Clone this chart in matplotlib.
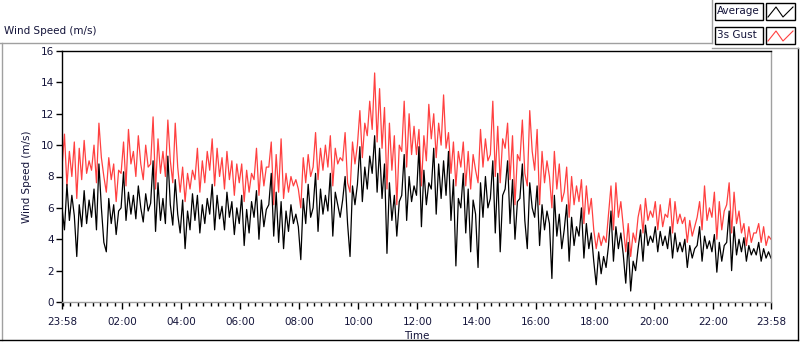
import numpy as np
import matplotlib
matplotlib.use("Agg")
import matplotlib.pyplot as plt
from matplotlib.lines import Line2D
from matplotlib.patches import Rectangle

# ==========================================
# DATOS (una muestra cada 5 min desde las 23:58)
# ==========================================
intervalo_min = 5

promedio = [
    6.0, 4.6, 7.5, 5.2, 6.8, 5.5,   2.9, 6.2, 4.8, 7.1, 5.0, 6.5,
    5.4, 7.2, 4.6, 8.8, 6.0, 3.8,   3.2, 6.6, 5.0, 6.2, 4.3, 5.8,
    6.0, 8.3, 5.2, 7.0, 5.6, 6.8,   5.3, 7.4, 6.0, 5.1, 6.9, 5.8,
    6.3, 9.0, 4.5, 7.6, 5.2, 6.6,   5.0, 9.3, 6.2, 4.9, 7.8, 5.6,
    4.4, 6.5, 3.4, 5.8, 4.6, 6.9,   5.2, 6.8, 4.4, 6.2, 5.0, 6.6,
    5.6, 7.5, 4.6, 6.8, 5.3, 6.1,   4.6, 7.0, 5.4, 6.4, 4.3, 6.0,
    5.0, 6.8, 3.6, 5.9, 4.4, 6.4,   5.4, 7.1, 4.0, 6.5, 4.8, 5.9,
    6.2, 8.2, 4.2, 7.0, 3.8, 6.4,   3.4, 5.8, 4.5, 6.2, 5.0, 5.6,
    4.8, 2.7, 6.6, 5.0, 7.5, 5.4,   6.0, 8.2, 4.5, 7.2, 5.6, 6.8,
    5.8, 8.2, 4.2, 7.0, 6.2, 5.4,   6.5, 8.0, 5.0, 2.9, 7.4, 6.2,
    7.5, 9.9, 6.4, 8.6, 7.2, 9.3,   8.2, 10.6, 7.0, 9.8, 6.6, 8.8,
    3.1, 7.6, 5.2, 6.8, 4.2, 6.4,   6.8, 9.4, 5.2, 8.0, 6.4, 7.4,
    6.8, 9.9, 4.8, 8.4, 6.2, 7.6,   7.2, 9.8, 5.6, 8.8, 6.6, 9.0,
    6.8, 9.6, 5.2, 7.8, 2.3, 6.6,   6.0, 8.2, 4.4, 7.2, 3.2, 6.5,
    5.6, 2.2, 7.6, 5.4, 8.0, 6.0,   6.6, 9.0, 4.4, 8.2, 3.2, 6.8,
    7.2, 9.0, 5.0, 7.8, 4.0, 6.4,   6.6, 8.8, 5.2, 3.4, 7.6, 6.0,
    5.4, 7.4, 3.6, 6.2, 4.6, 5.8,   5.0, 1.5, 6.8, 4.2, 5.6, 3.4,
    4.6, 6.2, 2.6, 5.4, 3.6, 4.8,   4.2, 6.0, 2.8, 5.0, 3.4, 4.4,
    2.6, 1.1, 3.2, 1.8, 2.9, 2.2,   3.6, 5.8, 2.6, 4.8, 3.4, 4.4,
    3.0, 1.2, 3.8, 0.7, 2.6, 2.0,   3.4, 4.6, 2.6, 4.9, 3.6, 4.2,
    3.8, 4.8, 3.2, 4.5, 3.6, 4.2,   3.4, 4.8, 2.8, 4.4, 3.2, 3.8,
    3.2, 4.0, 2.2, 3.6, 2.8, 3.4,   3.6, 4.8, 2.6, 4.2, 3.4, 3.9,
    3.2, 4.3, 1.9, 3.8, 2.6, 3.6,   3.8, 5.8, 2.0, 4.8, 3.0, 4.0,
    3.2, 4.1, 2.6, 3.6, 3.0, 3.4,   3.0, 3.8, 2.6, 3.4, 2.8, 3.2,
    2.8,
]

rafaga = [
    8.6, 10.7, 7.4, 9.6, 8.0, 10.2,  6.6, 9.8, 7.8, 10.3, 8.2, 9.0,
    8.4, 10.0, 7.6, 11.4, 9.2, 8.0,  7.0, 9.2, 7.8, 8.8, 6.4, 8.4,
    8.2, 10.2, 7.4, 11.0, 8.8, 9.6,  8.0, 10.6, 8.8, 7.8, 10.0, 8.6,
    8.8, 11.8, 7.2, 10.4, 8.2, 9.6,  8.0, 11.6, 9.0, 7.6, 11.4, 8.6,
    7.0, 8.6, 6.4, 8.2, 7.2, 8.4,    7.8, 9.8, 7.0, 9.0, 7.6, 9.6,
    8.4, 10.4, 7.4, 9.8, 8.0, 9.2,   7.2, 9.6, 7.8, 9.0, 6.8, 8.8,
    7.6, 8.8, 6.4, 8.4, 7.0, 8.2,    7.8, 9.8, 6.8, 9.0, 7.4, 8.6,
    8.6, 10.2, 6.2, 9.4, 7.0, 10.4,  6.6, 8.2, 7.0, 8.0, 7.4, 7.8,
    7.2, 6.0, 9.2, 7.6, 9.4, 8.0,    8.6, 10.8, 7.8, 9.8, 8.4, 10.0,
    8.6, 10.6, 7.4, 9.8, 8.8, 9.2,   9.0, 10.8, 7.6, 7.0, 10.2, 8.8,
    10.0, 12.2, 9.2, 11.4, 10.6, 12.8,  11.0, 14.6, 10.2, 13.6, 9.8, 12.4,
    7.2, 11.4, 8.4, 10.6, 6.2, 10.0,  9.6, 12.8, 8.6, 12.0, 9.4, 11.2,
    9.4, 11.0, 7.4, 10.6, 9.0, 12.6,  10.4, 12.0, 9.2, 11.4, 10.0, 13.2,
    9.8, 10.8, 8.2, 10.2, 7.4, 9.6,  8.6, 10.2, 7.4, 9.6, 7.2, 9.4,
    8.4, 7.6, 11.0, 8.6, 10.4, 9.0,  9.4, 12.8, 8.0, 11.2, 7.6, 10.4,
    9.8, 11.4, 7.8, 10.6, 6.2, 9.4,  9.0, 11.6, 8.2, 7.4, 12.2, 9.6,
    8.4, 11.0, 6.2, 9.6, 7.6, 9.0,   8.0, 6.0, 9.6, 7.2, 8.8, 6.4,
    7.0, 8.6, 5.4, 8.0, 6.2, 7.4,    6.4, 7.8, 5.0, 7.4, 5.6, 6.6,
    4.6, 3.4, 4.4, 3.6, 4.2, 3.8,    5.6, 7.4, 4.6, 7.6, 5.4, 6.4,
    4.8, 3.2, 5.0, 2.9, 4.4, 3.8,    5.4, 6.2, 4.4, 6.6, 5.2, 5.8,
    5.4, 6.4, 4.6, 6.2, 4.8, 5.6,    5.4, 6.6, 4.4, 6.4, 5.0, 5.6,
    5.0, 5.4, 3.8, 5.2, 4.2, 4.8,    5.4, 6.4, 4.6, 7.4, 5.2, 6.0,
    5.4, 7.0, 4.0, 6.4, 4.6, 5.8,    6.2, 7.6, 4.4, 7.0, 5.0, 5.8,
    4.4, 5.0, 3.6, 4.8, 3.8, 4.4,    4.4, 5.0, 3.8, 4.8, 3.6, 4.2,
    4.0,
]

# posiciones de las marcas del eje x (minutos desde las 23:58) y sus etiquetas
ticks_x = [0, 122, 242, 362, 482, 602, 722, 842, 962, 1082, 1202, 1322, 1440]
etiquetas_x = ["23:58", "02:00", "04:00", "06:00", "08:00", "10:00", "12:00",
               "14:00", "16:00", "18:00", "20:00", "22:00", "23:58"]
ticks_y = [0, 2, 4, 6, 8, 10, 12, 14, 16]

COLOR_TEXTO = "#14143a"
ROJO = "#ff4040"
GRIS = "#a0a0a0"

W, H = 800, 342


def px(x, y):
    """Convierte pixeles (origen arriba-izquierda) a fraccion de figura."""
    return x / W, 1 - y / H


def linea(fig, x0, y0, x1, y1, color, lw=1.0):
    a, b = px(x0, y0)
    c, d = px(x1, y1)
    fig.add_artist(Line2D([a, c], [b, d], color=color, lw=lw,
                          transform=fig.transFigure))


def caja(fig, x0, y0, x1, y1, edge="black"):
    a, b = px(x0, y1)
    fig.add_artist(Rectangle((a, b), (x1 - x0) / W, (y1 - y0) / H,
                             facecolor="white", edgecolor=edge, lw=1.0,
                             transform=fig.transFigure))


plt.rcParams["font.family"] = ["DejaVu Sans"]
plt.rcParams["font.size"] = 7.5

fig = plt.figure(figsize=(W / 100, H / 100), dpi=100)
fig.patch.set_facecolor("white")

l, b = px(62, 302)
r, t = px(771, 51)
ax = fig.add_axes([l, b, r - l, t - b])

tiempo = np.arange(len(promedio)) * intervalo_min
ax.plot(tiempo, rafaga, color=ROJO, lw=0.9)
ax.plot(tiempo, promedio, color="black", lw=0.9)

ax.set_xlim(0, 1440)
ax.set_ylim(0, 16)
ax.set_yticks(ticks_y)
ax.set_xticks(ticks_x)
ax.set_xticklabels(etiquetas_x)
ax.set_xticks(np.arange(2, 1440, 15), minor=True)

ax.tick_params(axis="both", which="major", direction="out", length=4,
               width=1, colors="black", labelcolor=COLOR_TEXTO, labelsize=7.5)
ax.tick_params(axis="x", which="major", length=5, pad=6)
ax.tick_params(axis="x", which="minor", direction="out", length=3, width=1,
               colors="black")
ax.tick_params(axis="y", which="major", pad=2)

ax.spines["left"].set_color("black")
ax.spines["top"].set_color("black")
ax.spines["right"].set_color(GRIS)
ax.spines["bottom"].set_color(GRIS)
for s in ax.spines.values():
    s.set_linewidth(1.0)

ax.set_xlabel("Time", color=COLOR_TEXTO, fontsize=7.5, labelpad=3)
ax.set_ylabel("Wind Speed (m/s)", color=COLOR_TEXTO, fontsize=7.5, labelpad=6)

# titulo del grafico y marco exterior estilo LabVIEW
fig.text(*px(4, 31), "Wind Speed (m/s)", color=COLOR_TEXTO, fontsize=7.5,
         ha="left", va="center")
linea(fig, 0, 42.5, 712, 42.5, GRIS)
linea(fig, 1.5, 42.5, 1.5, 340, GRIS)
linea(fig, 0, 340, 798, 340, "black")
linea(fig, 797.5, 48, 797.5, 340, "black")
linea(fig, 712, 48, 798, 48, GRIS)
linea(fig, 712, 0, 712, 42.5, GRIS)

# leyenda
filas = [("Average", "black", 3, 20), ("3s Gust", ROJO, 27, 44)]
for nombre, color, y0, y1 in filas:
    caja(fig, 715, y0, 763, y1)
    fig.text(*px(717, (y0 + y1) / 2), nombre, color=COLOR_TEXTO,
             fontsize=7.5, ha="left", va="center")
    caja(fig, 766, y0, 795, y1)
    xs = [768, 776, 783, 793]
    ys = [y1 - 3, y0 + 4, y1 - 3, y0 + 4]
    pts = [px(x, y) for x, y in zip(xs, ys)]
    fig.add_artist(Line2D([p[0] for p in pts], [p[1] for p in pts],
                          color=color, lw=0.8, transform=fig.transFigure))

fig.savefig("out.png", dpi=100)
